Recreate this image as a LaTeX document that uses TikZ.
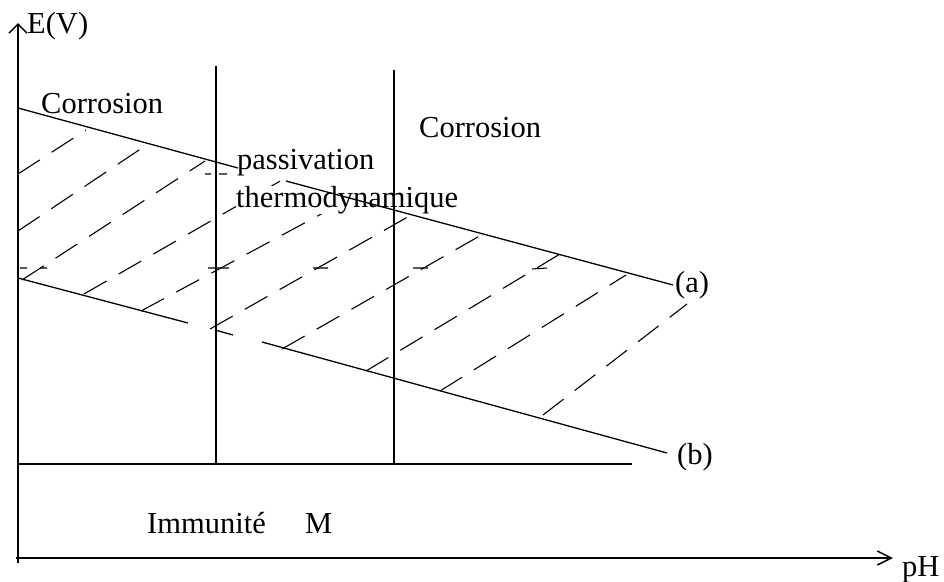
\documentclass[tikz,border=0pt]{standalone}
\usepackage{fontspec}
\setmainfont{Liberation Serif}
\usetikzlibrary{arrows.meta}
\begin{document}
\begin{tikzpicture}[x=1pt,y=-1pt,
  lbl/.style={anchor=base west,inner sep=0pt,font=\fontsize{30.5}{36}\selectfont},
  axisline/.style={line width=1.5pt},
  bound/.style={line width=1.3pt},
  hatchline/.style={line width=1.1pt,dash pattern=on 26pt off 14pt},
  tickline/.style={line width=1.1pt}]
\useasboundingbox[fill=white] (0,0) rectangle (944,581);
% coordinates
\coordinate (O) at (18,558);
\coordinate (Yb) at (18,563);
\coordinate (Yt) at (18,23);
\coordinate (Xs) at (16,558);
\coordinate (Xe) at (893,558);
\coordinate (Hl) at (18,464);
\coordinate (Hr) at (632,464);
\coordinate (V1t) at (216,66);
\coordinate (V1b) at (216,464);
\coordinate (V2t) at (394,70);
\coordinate (V2b) at (394,464);
\coordinate (A1) at (18,108);
\coordinate (A2) at (238,168);
\coordinate (A3) at (286,181);
\coordinate (A4) at (673,285);
\coordinate (B1) at (18,278);
\coordinate (B2) at (188,323);
\coordinate (B3) at (215,330);
\coordinate (B4) at (233,335);
\coordinate (B5) at (262,342);
\coordinate (B6) at (667,453);
% hatching
\foreach \xa/\ya/\xb/\yb in {18/174/86/130, 18/231/148/144, 22/280/205/161,
  84/294/282/180, 141/311/351/198, 210/329/413/214, 282/349/483/234,
  366/371/560/254, 440/391/626/275, 543/415/687/304}
  \draw[hatchline] (\xa,\ya) -- (\xb,\yb);
% small marks
\draw[tickline] (20,268) -- (27,268) (40,268) -- (47,268) (208,268) -- (229,268)
  (313,268) -- (328,268) (413,268) -- (428,268) (532,269) -- (547,268)
  (205,174) -- (211,174) (219,174) -- (227,174);
% thermodynamique label (hides hatching)
\node[lbl,fill=white] (thermo) at (236,207) {thermodynamique};
% axes
\draw[axisline,-{Straight Barb[length=9pt,width=18pt]}] (Yb) -- (Yt);
\draw[axisline,-{Straight Barb[length=14pt,width=14pt]}] (Xs) -- (Xe);
% region boundaries
\draw[bound] (Hl) -- (Hr);
\draw[bound] (V1t) -- (V1b);
\draw[bound] (V2t) -- (V2b);
\draw[bound] (A1) -- (A2) (A3) -- (A4);
\draw[bound] (B1) -- (B2) (B3) -- (B4) (B5) -- (B6);
% labels
\node[lbl] (ev) at (27,33) {E(V)};
\node[lbl] (corrL) at (41,113) {Corrosion};
\node[lbl] (corrR) at (419,137) {Corrosion};
\node[lbl] (passiv) at (237,169) {passivation};
\node[lbl] (la) at (675,292) {(a)};
\node[lbl] (lb) at (677,464) {(b)};
\node[lbl] (immu) at (147,533) {Immunité};
\node[lbl] (M) at (305,533) {M};
\node[lbl] (ph) at (902,576) {pH};
\end{tikzpicture}
\end{document}
